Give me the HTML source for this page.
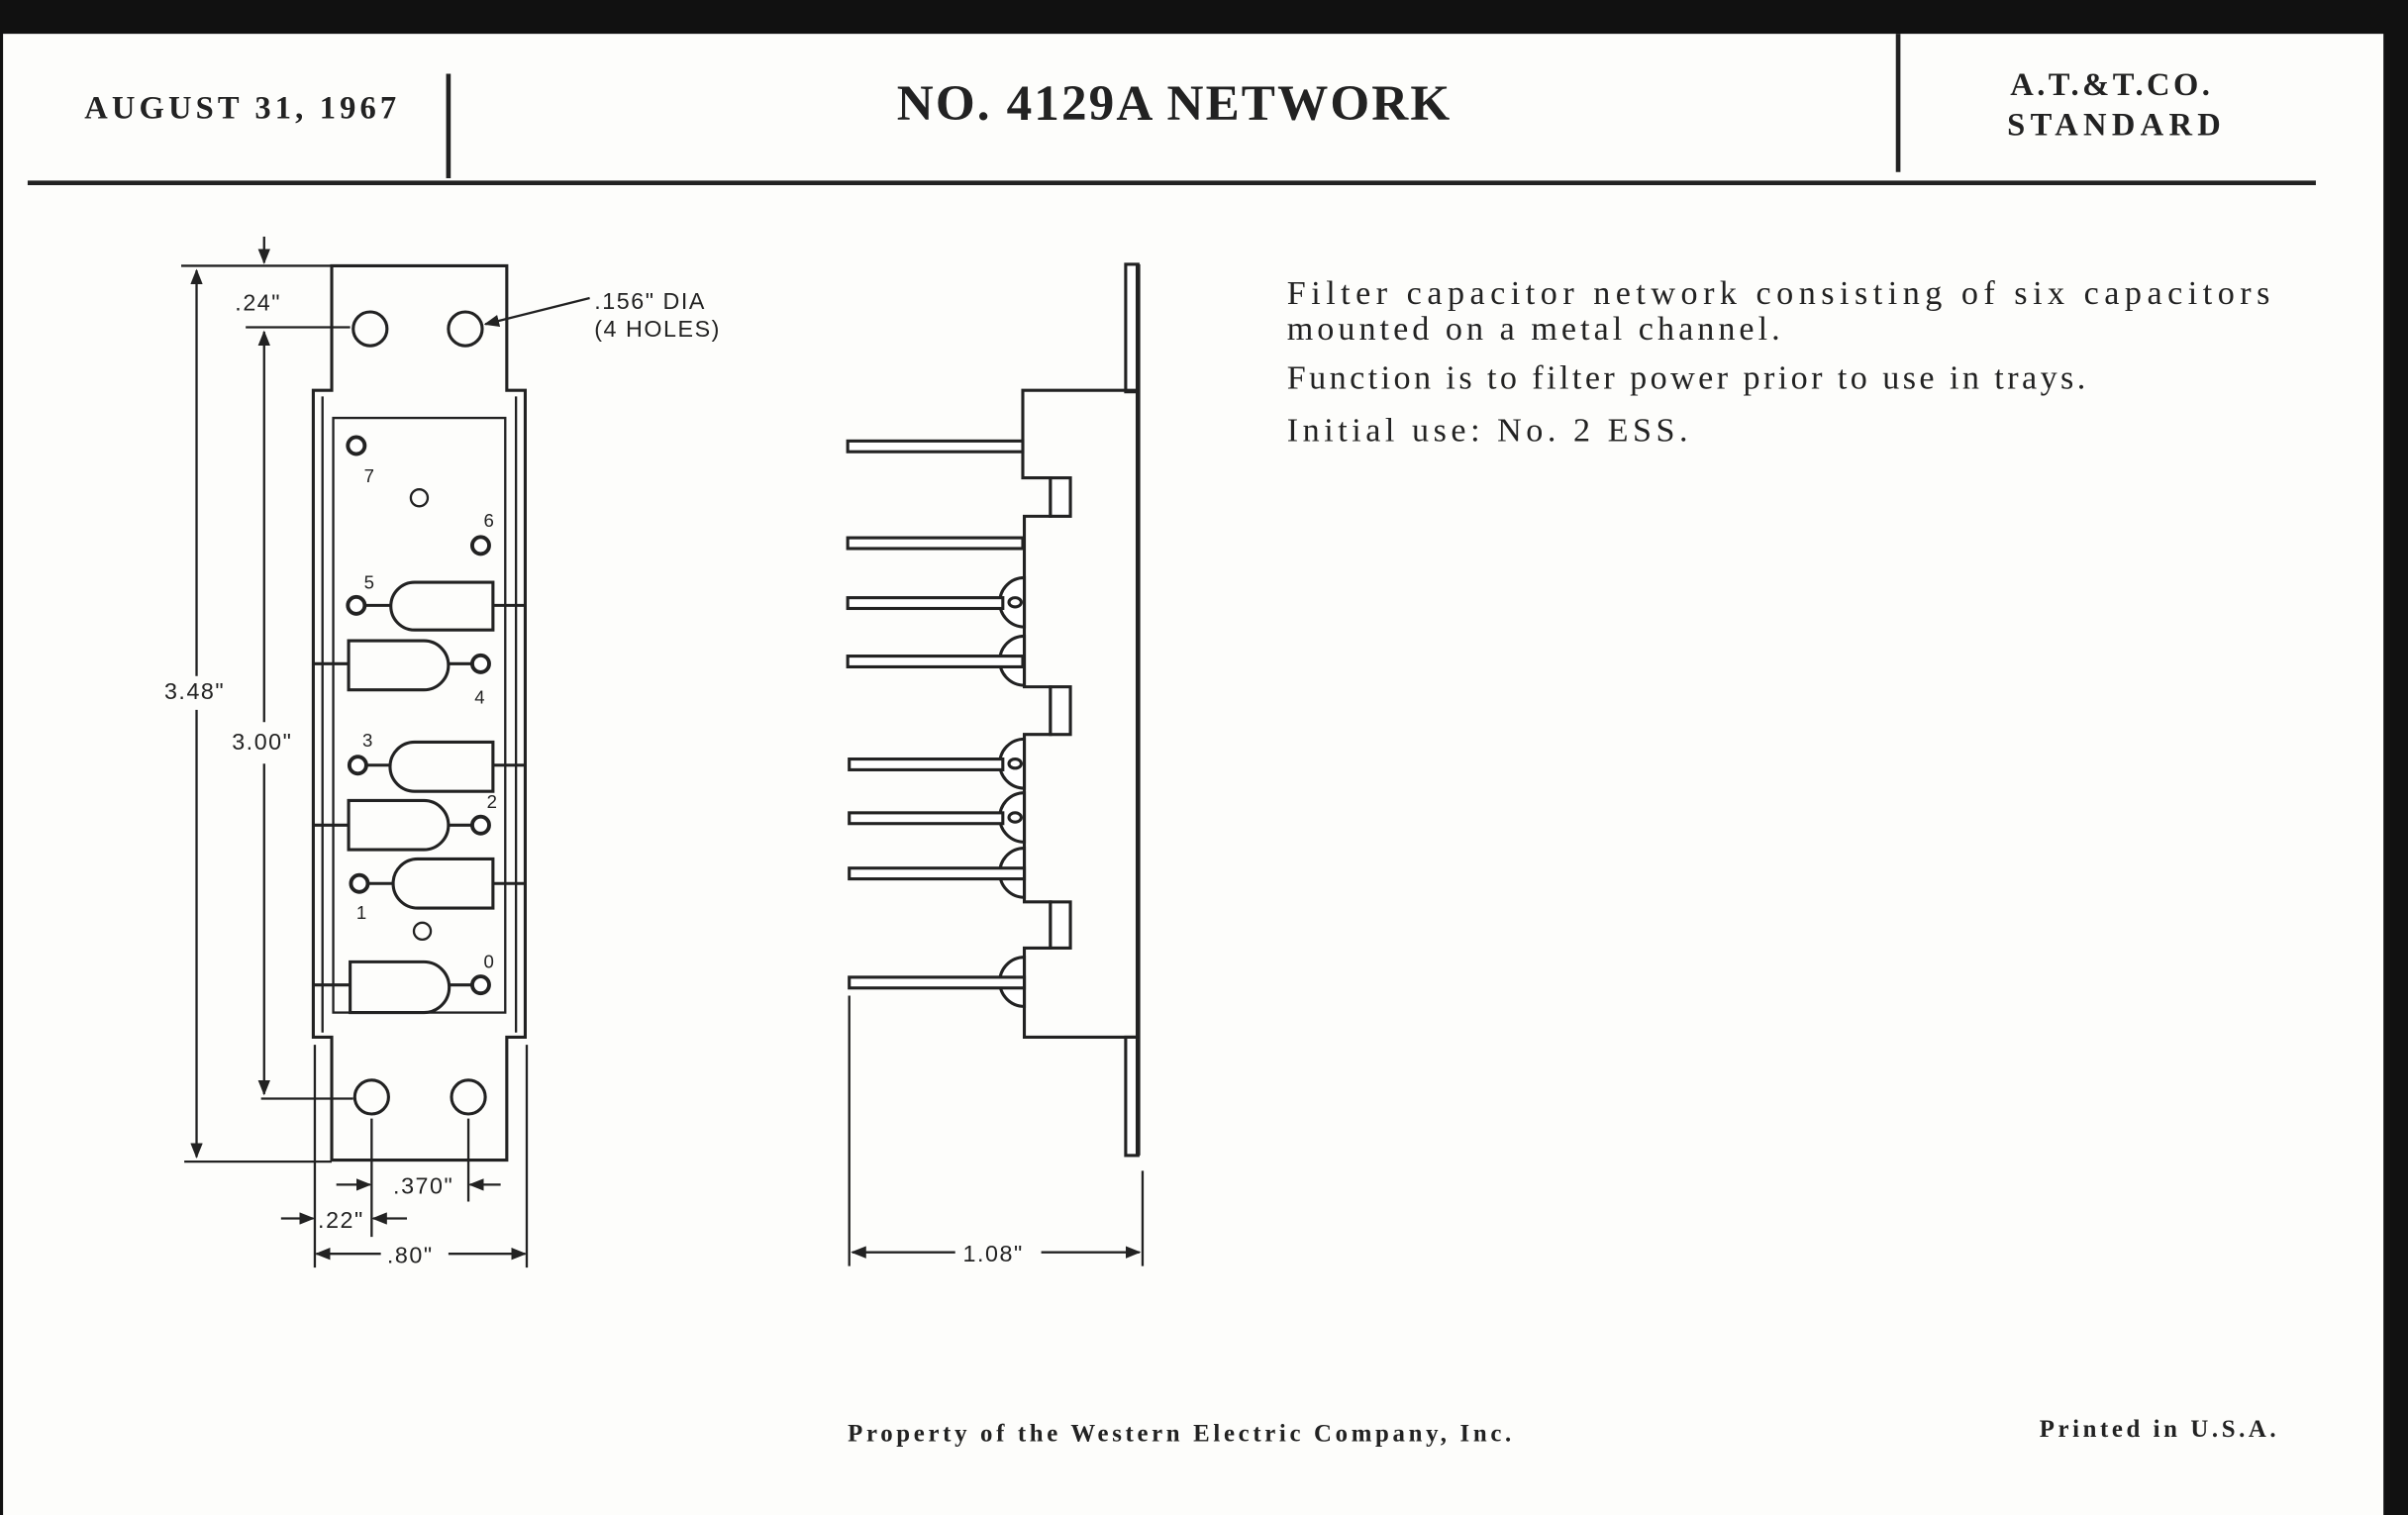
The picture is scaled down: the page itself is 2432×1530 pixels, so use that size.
<!DOCTYPE html>
<html><head><meta charset="utf-8"><style>html,body{margin:0;padding:0;background:#000;}svg{display:block;}</style></head><body>
<svg width="2432" height="1530" viewBox="0 0 1568 986" preserveAspectRatio="none" xmlns="http://www.w3.org/2000/svg">
<defs>
<marker id="ar" markerWidth="10" markerHeight="8" refX="9" refY="4" orient="auto" markerUnits="userSpaceOnUse"><path d="M0,0 L10,4 L0,8 Z" fill="#222"/></marker>
</defs>
<rect x="0" y="0" width="1568" height="986" fill="#111"/>
<rect x="2" y="22" width="1550" height="964" fill="#fdfdfb"/>
<g font-family="Liberation Serif, serif" font-weight="bold" fill="#222">
<text x="55" y="77" font-size="21" textLength="203">AUGUST 31, 1967</text>
<text x="584" y="78" font-size="33" textLength="360">NO. 4129A NETWORK</text>
<text x="1309" y="62" font-size="21" textLength="130">A.T.&amp;T.CO.</text>
<text x="1307" y="88" font-size="21" textLength="139">STANDARD</text>
<text x="552" y="938" font-size="16" textLength="432">Property of the Western Electric Company, Inc.</text>
<text x="1328" y="935" font-size="16" textLength="154">Printed in U.S.A.</text>
</g>
<g stroke="#222" fill="none">
<line x1="292" y1="48" x2="292" y2="116" stroke-width="3"/>
<line x1="1236" y1="22" x2="1236" y2="112" stroke-width="3"/>
<line x1="18" y1="119" x2="1508" y2="119" stroke-width="3"/>
</g>
<g font-family="Liberation Serif, serif" fill="#222" font-size="22">
<text x="838" y="198" textLength="640">Filter capacitor network consisting of six capacitors</text>
<text x="838" y="221" textLength="321">mounted on a metal channel.</text>
<text x="838" y="253" textLength="520">Function is to filter power prior to use in trays.</text>
<text x="838" y="287" textLength="261">Initial use:  No. 2 ESS.</text>
</g>
<!-- left drawing -->
<g stroke="#222" fill="none" stroke-width="2">
<path d="M216,173 H330 V254 H342 V675 H330 V755 H216 V675 H204 V254 H216 Z"/>
<line x1="210" y1="258" x2="210" y2="672" stroke-width="1.5"/>
<line x1="336" y1="258" x2="336" y2="672" stroke-width="1.5"/>
<rect x="217" y="272" width="112" height="387" stroke-width="1.5"/>
<circle cx="241" cy="214" r="11"/><circle cx="303" cy="214" r="11"/>
<circle cx="242" cy="714" r="11"/><circle cx="305" cy="714" r="11"/>
<circle cx="273" cy="324" r="5.5" stroke-width="1.5"/><circle cx="275" cy="606" r="5.5" stroke-width="1.5"/>
<path d="M321,379 H270 A15.5,15.5 0 0 0 270,410 H321 Z"/><line x1="232" y1="394" x2="255" y2="394"/><line x1="321" y1="394" x2="342" y2="394"/>
<path d="M321,483 H270 A16,16 0 0 0 270,515 H321 Z"/><line x1="233" y1="498" x2="255" y2="498"/><line x1="321" y1="498" x2="342" y2="498"/>
<path d="M321,559 H272 A16,16 0 0 0 272,591 H321 Z"/><line x1="234" y1="575" x2="256" y2="575"/><line x1="321" y1="575" x2="342" y2="575"/>
<path d="M227,417 H276 A16,16 0 0 1 276,449 H227 Z"/><line x1="292" y1="432" x2="313" y2="432"/><line x1="204" y1="432" x2="227" y2="432"/>
<path d="M227,521 H276 A16,16 0 0 1 276,553 H227 Z"/><line x1="292" y1="537" x2="313" y2="537"/><line x1="204" y1="537" x2="227" y2="537"/>
<path d="M228,626 H276 A16.5,16.5 0 0 1 276,659 H228 Z"/><line x1="292" y1="641" x2="313" y2="641"/><line x1="204" y1="641" x2="228" y2="641"/>
</g>
<g stroke="#222" stroke-width="2.5" fill="#fff">
<circle cx="232" cy="290" r="5.5"/><circle cx="313" cy="355" r="5.5"/>
<circle cx="232" cy="394" r="5.5"/><circle cx="313" cy="432" r="5.5"/>
<circle cx="233" cy="498" r="5.5"/><circle cx="313" cy="537" r="5.5"/>
<circle cx="234" cy="575" r="5.5"/><circle cx="313" cy="641" r="5.5"/>
</g>
<g font-family="Liberation Sans, sans-serif" font-size="12" fill="#222">
<text x="237" y="314">7</text><text x="315" y="343">6</text><text x="237" y="383">5</text><text x="309" y="458">4</text>
<text x="236" y="486">3</text><text x="317" y="526">2</text><text x="232" y="598">1</text><text x="315" y="630">0</text>
</g>
<g stroke="#222" stroke-width="1.5" fill="none">
<line x1="118" y1="173" x2="216" y2="173"/><line x1="120" y1="756" x2="216" y2="756"/>
<line x1="128" y1="440" x2="128" y2="176" marker-end="url(#ar)"/><line x1="128" y1="462" x2="128" y2="753" marker-end="url(#ar)"/>
<line x1="160" y1="213" x2="228" y2="213"/><line x1="170" y1="715" x2="230" y2="715"/>
<line x1="172" y1="470" x2="172" y2="216" marker-end="url(#ar)"/><line x1="172" y1="497" x2="172" y2="712" marker-end="url(#ar)"/>
<line x1="172" y1="154" x2="172" y2="171" marker-end="url(#ar)"/>
<line x1="384" y1="194" x2="316" y2="211" marker-end="url(#ar)"/>
<line x1="205" y1="680" x2="205" y2="825"/><line x1="343" y1="680" x2="343" y2="825"/>
<line x1="242" y1="728" x2="242" y2="805"/><line x1="305" y1="728" x2="305" y2="782"/>
<line x1="219" y1="771" x2="241" y2="771" marker-end="url(#ar)"/><line x1="326" y1="771" x2="306" y2="771" marker-end="url(#ar)"/>
<line x1="183" y1="793" x2="204" y2="793" marker-end="url(#ar)"/><line x1="265" y1="793" x2="243" y2="793" marker-end="url(#ar)"/>
<line x1="248" y1="816" x2="206" y2="816" marker-end="url(#ar)"/><line x1="292" y1="816" x2="342" y2="816" marker-end="url(#ar)"/>
</g>
<g font-family="Liberation Sans, sans-serif" font-size="15" fill="#222" letter-spacing="1">
<text x="153" y="202">.24"</text>
<text x="107" y="455">3.48"</text>
<text x="151" y="488">3.00"</text>
<text x="387" y="201">.156" DIA</text>
<text x="387" y="219">(4 HOLES)</text>
<text x="256" y="777">.370"</text>
<text x="207" y="799">.22"</text>
<text x="252" y="822">.80"</text>
<text x="627" y="821">1.08"</text>
</g>
<g stroke="#222" stroke-width="2" fill="#fff">
<rect x="733" y="172" width="8" height="83"/>
<rect x="733" y="675" width="8" height="77"/>
<line x1="741" y1="172" x2="741" y2="752" stroke-width="3"/>
<path d="M741,254 H666 V311 H684 V336 H667 V447 H684 V478 H667 V587 H684 V617 H667 V675 H741" fill="none"/>
<rect x="684" y="311" width="13" height="25"/>
<rect x="684" y="447" width="13" height="31"/>
<rect x="684" y="587" width="13" height="30"/>
<path d="M667,376 A16,16 0 0 0 667,408 Z"/><ellipse cx="661" cy="392" rx="4" ry="3"/>
<path d="M667,414 A16,16 0 0 0 667,446 Z"/>
<path d="M667,481 A16,16 0 0 0 667,513 Z"/><ellipse cx="661" cy="497" rx="4" ry="3"/>
<path d="M667,516 A16,16 0 0 0 667,548 Z"/><ellipse cx="661" cy="532" rx="4" ry="3"/>
<path d="M667,552 A16,16 0 0 0 667,584 Z"/>
<path d="M667,623 A16,16 0 0 0 667,655 Z"/>
<rect x="552" y="287" width="114" height="7"/>
<rect x="552" y="350" width="114" height="7"/>
<rect x="552" y="389" width="101" height="7"/>
<rect x="552" y="427" width="114" height="7"/>
<rect x="553" y="494" width="100" height="7"/>
<rect x="553" y="529" width="100" height="7"/>
<rect x="553" y="565" width="114" height="7"/>
<rect x="553" y="636" width="114" height="7"/>
</g>
<g stroke="#222" stroke-width="1.5" fill="none">
<line x1="553" y1="648" x2="553" y2="824"/><line x1="744" y1="762" x2="744" y2="824"/>
<line x1="622" y1="815" x2="555" y2="815" marker-end="url(#ar)"/><line x1="678" y1="815" x2="742" y2="815" marker-end="url(#ar)"/>
</g>
</svg>
</body></html>
